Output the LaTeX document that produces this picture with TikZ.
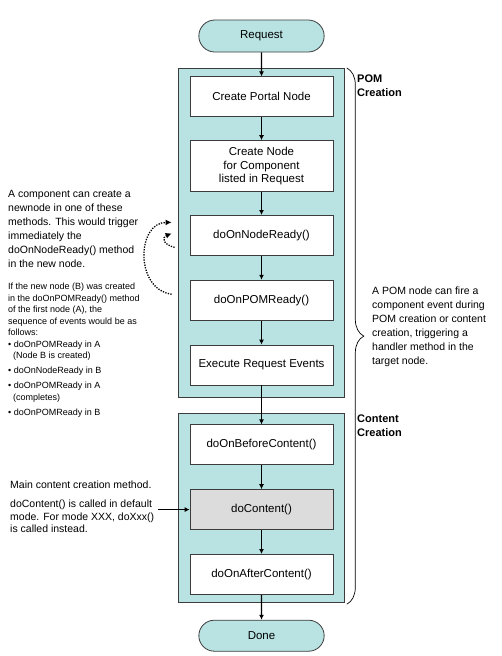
\documentclass[tikz,border=0pt]{standalone}
\usepackage{fontspec}
\setmainfont{Liberation Sans}
\usetikzlibrary{arrows.meta, positioning, calc, fit, backgrounds, shapes.misc, decorations.pathreplacing}
\definecolor{StageTeal}{RGB}{185,227,227}
\definecolor{StepGray}{RGB}{220,220,220}
\definecolor{EdgeGray}{RGB}{60,60,60}

\begin{document}
\begin{tikzpicture}[
  x=1pt, y=-1pt,
  node distance=24pt,
  stepbox/.style={rectangle, draw=EdgeGray, fill=white, line width=0.8pt, align=center,
              minimum width=143pt, minimum height=40pt, inner sep=2pt,
              font=\fontsize{11.5}{13.5}\selectfont},
  terminal/.style={rounded rectangle, draw=EdgeGray, fill=StageTeal, line width=0.8pt,
              minimum width=132pt, minimum height=32pt, font=\fontsize{11.5}{13.5}\selectfont},
  stage/.style={rectangle, draw=EdgeGray, fill=StageTeal, line width=0.8pt,
              inner xsep=11pt, inner ysep=0pt},
  stagelabel/.style={font=\fontsize{11}{14}\selectfont\bfseries, align=left, inner sep=0pt},
  note/.style={font=\fontsize{10.5}{14}\selectfont, align=left, inner sep=0pt},
  smallnote/.style={font=\fontsize{9}{11.5}\selectfont, align=left, inner sep=0pt},
  flow/.style={-{Latex[length=5pt,width=5pt]}, line width=1.4pt},
  callback/.style={-{Latex[length=6pt,width=6pt]}, line width=1.3pt, dash pattern=on 1.3pt off 1.3pt},
  pointer/.style={-{Latex[length=5pt,width=5pt]}, line width=0.8pt},
  brace/.style={decorate, decoration={brace, amplitude=17pt}, line width=0.7pt}
]
\useasboundingbox (0,0) rectangle (501,656);

% main column
\node[terminal] (request) at (261.5,36) {Request};
\node[stepbox, below=of request] (portal) {Create Portal Node};
\node[stepbox, minimum height=51pt, below=23pt of portal] (createnode) {Create Node\\for Component\\listed in Request};
\node[stepbox, below=23pt of createnode] (nodeready) {doOnNodeReady()};
\node[stepbox, below=of nodeready] (pomready) {doOnPOMReady()};
\node[stepbox, below=of pomready] (execute) {Execute Request Events};
\node[stepbox, below=39pt of execute] (before) {doOnBeforeContent()};
\node[stepbox, fill=StepGray, below=of before] (docontent) {doContent()};
\node[stepbox, below=of docontent] (after) {doOnAfterContent()};
\node[terminal, minimum height=31pt, below=25pt of after] (done) {Done};

% stage frames
\coordinate (pomtop) at ([yshift=8pt]portal.north);
\coordinate (pombottom) at ([yshift=-12pt]execute.south);
\coordinate (contenttop) at ([yshift=11pt]before.north);
\coordinate (contentbottom) at ([yshift=-8pt]after.south);
\begin{scope}[on background layer]
\node[stage, fit=(portal)(execute)(pomtop)(pombottom)] (pomframe) {};
\node[stage, fit=(before)(after)(contenttop)(contentbottom)] (contentframe) {};
\end{scope}

\draw[flow] (request) -- (portal);
\draw[flow] (portal) -- (createnode);
\draw[flow] (createnode) -- (nodeready);
\draw[flow] (nodeready) -- (pomready);
\draw[flow] (pomready) -- (execute);
\draw[flow] (execute) -- (before);
\draw[flow] (before) -- (docontent);
\draw[flow] (docontent) -- (after);
\draw[flow] (after) -- (done);

% brace and stage labels
\draw[brace] ([xshift=2pt]pomframe.north east) -- ([xshift=2pt,yshift=-1pt]contentframe.south east);
\node[stagelabel, anchor=north west] (pomlabel) at (357,75) {POM\\Creation};
\node[stagelabel, anchor=north west] (contentlabel) at (357,415) {Content\\Creation};
\node[note, anchor=north west] (firenote) at (372,287) {A POM node can fire a\\component event during\\POM creation or content\\creation, triggering a\\handler method in the\\target node.};

% left notes
\node[note, anchor=north west] (createnote) at (8,190) {A component can create a\\newnode in one of these\\methods. This would trigger\\immediately the\\doOnNodeReady() method\\in the new node.};
\node[smallnote, anchor=north west] (sequencenote) at (8,283) {If the new node (B) was created\\in the doOnPOMReady() method\\of the first node (A), the\\sequence of events would be as\\follows:\\
• doOnPOMReady in A\\\hspace*{5pt}(Node B is created)\\[3.5pt]
• doOnNodeReady in B\\[3.5pt]
• doOnPOMReady in A\\\hspace*{5pt}(completes)\\[3.5pt]
• doOnPOMReady in B};
\node[note, anchor=north west] (mainnote) at (10,481) {Main content creation method.};
\node[note, font=\fontsize{10.5}{12.5}\selectfont, anchor=north west] (callnote) at (10,500) {doContent() is called in default\\mode. For mode XXX, doXxx()\\is called instead.};

\draw[callback] ([xshift=-18pt,yshift=6pt]pomready.west) .. controls +(-37,-5) and +(-35,0) .. ([xshift=-18pt,yshift=13pt]nodeready.west);
\draw[callback] ([xshift=-15pt,yshift=-12pt]nodeready.west) .. controls +(-12,-3) and +(-10,4) .. ([xshift=-18pt,yshift=2pt]nodeready.west);
\draw[pointer] ([xshift=4pt]callnote.east |- docontent.west) -- (docontent.west);
\end{tikzpicture}
\end{document}
